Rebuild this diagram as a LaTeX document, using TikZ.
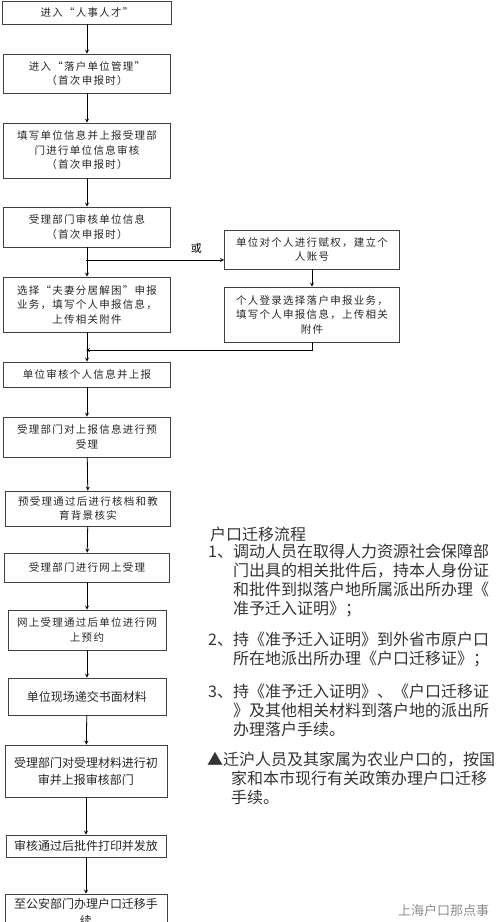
\documentclass[tikz,border=0pt]{standalone}
\usepackage{fontspec}
\setmainfont{Noto Sans CJK SC}
\newfontfamily\kuan[LetterSpace=12]{Noto Sans CJK SC}
\begin{document}
\begin{tikzpicture}[x=1pt, y=-1pt,
        paso/.style={draw=black!75, line width=0.8pt, minimum width=167pt, align=center, inner sep=1pt, text=black!85, font=\kuan\fontsize{10.5}{14.5}\selectfont},
        pasog/.style={paso, font=\fontsize{12}{17}\selectfont},
        nota/.style={anchor=north west, inner sep=0pt, align=left, text=black!80, font=\fontsize{16}{19}\selectfont},
        flecha/.style={->, >=stealth, line width=0.8pt}
    ]
    \useasboundingbox (0,0) rectangle (500,922);
    % columna izquierda
    \node (b1) [paso, minimum width=169pt, minimum height=23pt] at (87,12.5) {进入“人事人才”};
    \node (b2) [paso, minimum height=39pt] at (87,73.5) {进入“落户单位管理”\\（首次申报时）};
    \node (b3) [paso, minimum height=55pt] at (87,150.5) {填写单位信息并上报受理部\\门进行单位信息审核\\（首次申报时）};
    \node (b4) [paso, minimum height=40pt] at (87,227) {受理部门审核单位信息\\（首次申报时）};
    \node (b5) [paso, minimum height=55pt] at (87,304.5) {选择“夫妻分居解困”申报\\业务，填写个人申报信息，\\上传相关附件};
    \node (b6) [paso, minimum height=25pt] at (87,374.5) {单位审核个人信息并上报};
    \node (b7) [paso, minimum height=40pt] at (87,437) {受理部门对上报信息进行预\\受理};
    \node (b8) [paso, minimum width=165pt, minimum height=35pt] at (88,508.5) {预受理通过后进行核档和教\\育背景核实};
    \node (b9) [paso, minimum width=165pt, minimum height=29pt] at (87,567.5) {受理部门进行网上受理};
    \node (b10) [paso, minimum width=158pt, minimum height=40pt] at (87,630) {网上受理通过后单位进行网\\上预约};
    \node (b11) [pasog, minimum width=158pt, minimum height=37pt] at (87,696.5) {单位现场递交书面材料};
    \node (b12) [pasog, minimum width=162pt, minimum height=52pt] at (86,771) {受理部门对受理材料进行初\\审并上报审核部门};
    \node (b13) [pasog, minimum width=160pt, minimum height=22pt] at (86,846) {审核通过后批件打印并发放};
    \node (b14) [pasog, minimum width=162pt, minimum height=36pt] at (86,912) {至公安部门办理户口迁移手\\续};
    % rama derecha
    \node (r1) [paso, minimum width=175pt, minimum height=39pt] at (312,249.5) {单位对个人进行赋权，建立个\\人账号};
    \node (r2) [paso, minimum width=175pt, minimum height=55pt] at (312,314.5) {个人登录选择落户申报业务，\\填写个人申报信息，上传相关\\附件};
    \coordinate (fen) at (86,260);
    \coordinate (he) at (86,350);

    \draw [flecha] (b1) -- (b2);
    \draw [flecha] (b2) -- (b3);
    \draw [flecha] (b3) -- (b4);
    \draw [flecha] (b4) -- (b5);
    \draw [flecha] (fen) -- node[above=3pt, pos=0.8, font=\fontsize{11}{13}\selectfont] {或} (fen -| r1.west);
    \draw [flecha] (r1) -- (r2);
    \draw [flecha] (r2.south) |- (he);
    \draw [flecha] (b5) -- (b6);
    \draw [flecha] (b6) -- (b7);
    \draw [flecha] (b7) -- (b8);
    \draw [flecha] (b8) -- (b9);
    \draw [flecha] (b9) -- (b10);
    \draw [flecha] (b10) -- (b11);
    \draw [flecha] (b11) -- (b12);
    \draw [flecha] (b12) -- (b13);
    \draw [flecha] (b13) -- (b14);

    % texto de la derecha
    \node (titulo) [nota] at (210,527) {户口迁移流程};
    \node (p1) [nota] at (208,544) {1、调动人员在取得人力资源社会保障部\\\phantom{1、}门出具的相关批件后，持本人身份证\\\phantom{1、}和批件到拟落户地所属派出所办理《\\\phantom{1、}准予迁入证明》；};
    \node (p2) [nota] at (208,632) {2、持《准予迁入证明》到外省市原户口\\\phantom{2、}所在地派出所办理《户口迁移证》；};
    \node (p3) [nota] at (208,684) {3、持《准予迁入证明》、《户口迁移证\\\phantom{3、}》及其他相关材料到落户地的派出所\\\phantom{3、}办理落户手续。};
    \node (p4) [nota] at (207,752) {▲迁沪人员及其家属为农业户口的，按国\\\hspace*{24pt}家和本市现行有关政策办理户口迁移\\\hspace*{24pt}手续。};
    \node (marca) [anchor=west, inner sep=0pt, text=black!45, font=\fontsize{13}{15}\selectfont] at (398,911) {上海户口那点事};
\end{tikzpicture}
\end{document}
